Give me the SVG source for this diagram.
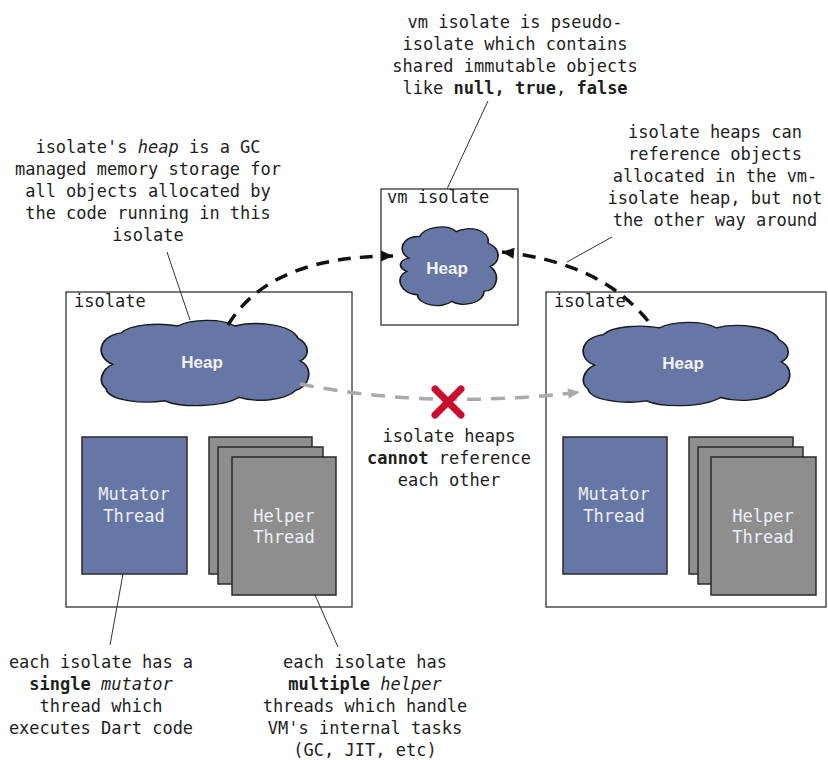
<svg xmlns="http://www.w3.org/2000/svg" width="828" height="760" viewBox="0 0 828 760">
<style>
.t{font-family:"DejaVu Sans Mono","Liberation Mono",monospace;font-size:17px;fill:#1e1e1e;text-anchor:middle}
.lbl{font-family:"DejaVu Sans Mono","Liberation Mono",monospace;font-size:17px;fill:#1e1e1e}
.box{fill:#fff;stroke:#333;stroke-width:1.3}
.cloud{fill:#6677a6;stroke:#1a1a1a;stroke-width:1.6}
.heap{font-family:"Liberation Sans",Arial,sans-serif;font-weight:bold;font-size:17px;fill:#f2f4fa;text-anchor:middle}
.mut{fill:#6677a6;stroke:#2a2a2a;stroke-width:1.5}
.hlp{fill:#8e8e8e;stroke:#2a2a2a;stroke-width:1.5}
.tt{font-family:"DejaVu Sans Mono","Liberation Mono",monospace;font-size:17px;fill:#eef0f6;text-anchor:middle}
.lead{stroke:#333;stroke-width:1;fill:none}
.dash{fill:none;stroke:#111;stroke-width:3.5;stroke-dasharray:13 9}
.gdash{fill:none;stroke:#aaa;stroke-width:3.5;stroke-dasharray:14 10}
.b{font-weight:bold}
.i{font-style:italic}
</style>
<defs>
<path id="cl" d="M18,52 C2,44 4,20 26,16 C34,6 60,4 78,8 C90,0 118,-1 130,8 C150,2 182,6 188,22 C200,30 198,44 190,48 C202,56 200,76 186,82 C176,94 150,96 134,90 C118,102 80,102 66,94 C46,98 14,94 12,80 C4,72 8,58 18,52 Z"/>
<path id="vcl" d="M14,40 C2,32 8,12 24,14 C28,2 50,-2 58,8 C70,0 90,6 88,22 C100,28 100,44 90,50 C100,60 96,80 84,80 C84,94 64,100 54,92 C44,102 22,96 22,84 C6,84 0,62 12,56 C2,50 6,42 14,40 Z"/>
<marker id="ah" markerUnits="userSpaceOnUse" markerWidth="14" markerHeight="14" viewBox="0 0 14 14" refX="13" refY="7" orient="auto">
<path d="M1,1.5 L13,7 L1,12.5 Z" fill="#111"/>
</marker>
<marker id="gh" markerUnits="userSpaceOnUse" markerWidth="14" markerHeight="14" viewBox="0 0 14 14" refX="13" refY="7" orient="auto">
<path d="M1,2 L13,7 L1,12 Z" fill="#aaa"/>
</marker>
</defs>
<rect width="828" height="760" fill="#fff"/>

<g id="note-vm" class="t">
<text x="515" y="28">vm isolate is pseudo-</text>
<text x="515" y="50">isolate which contains</text>
<text x="515" y="72">shared immutable objects</text>
<text x="515" y="94">like <tspan class="b">null, true</tspan>, <tspan class="b">false</tspan></text>
</g>
<g id="note-heap" class="t">
<text x="148" y="153">isolate's <tspan class="i">heap</tspan> is a GC</text>
<text x="148" y="175">managed memory storage for</text>
<text x="148" y="197">all objects allocated by</text>
<text x="148" y="219">the code running in this</text>
<text x="148" y="241">isolate</text>
</g>
<g id="note-ref" class="t">
<text x="715" y="138">isolate heaps can</text>
<text x="715" y="160">reference objects</text>
<text x="715" y="182">allocated in the vm-</text>
<text x="715" y="204">isolate heap, but not</text>
<text x="715" y="226">the other way around</text>
</g>

<g id="vm-isolate">
<rect class="box" x="381" y="189" width="137" height="136"/>
<text class="lbl" x="387" y="203">vm isolate</text>
<use href="#vcl" class="cloud" transform="translate(394,225) scale(1.07,0.83)" style="vector-effect:non-scaling-stroke"/>
<text class="heap" x="447" y="274">Heap</text>
</g>

<g id="isolate-left">
<rect class="box" x="66" y="292" width="286" height="315"/>
<text class="lbl" x="74" y="307">isolate</text>
<use href="#cl" class="cloud" transform="translate(93,319) scale(1.09,0.87)" style="vector-effect:non-scaling-stroke"/>
<text class="heap" x="202" y="368">Heap</text>
<g id="mutator-left">
<rect class="mut" x="82" y="437" width="105" height="137"/>
<text class="tt" x="134" y="500">Mutator</text>
<text class="tt" x="134" y="522">Thread</text>
</g>
<g id="helper-left">
<rect class="hlp" x="209" y="437" width="103" height="137"/>
<rect class="hlp" x="218" y="447" width="105" height="137"/>
<rect class="hlp" x="232" y="457" width="104" height="138"/>
<text class="tt" x="284" y="522">Helper</text>
<text class="tt" x="284" y="543">Thread</text>
</g>
</g>

<g id="isolate-right">
<rect class="box" x="546" y="292" width="280" height="315"/>
<text class="lbl" x="554" y="307">isolate</text>
<use href="#cl" class="cloud" transform="translate(575,321) scale(1.085,0.85)" style="vector-effect:non-scaling-stroke"/>
<text class="heap" x="683" y="369">Heap</text>
<g id="mutator-right">
<rect class="mut" x="563" y="437" width="104" height="137"/>
<text class="tt" x="614" y="500">Mutator</text>
<text class="tt" x="614" y="522">Thread</text>
</g>
<g id="helper-right">
<rect class="hlp" x="689" y="437" width="104" height="137"/>
<rect class="hlp" x="698" y="447" width="105" height="137"/>
<rect class="hlp" x="711" y="457" width="105" height="138"/>
<text class="tt" x="763" y="522">Helper</text>
<text class="tt" x="763" y="543">Thread</text>
</g>
</g>

<g id="note-cannot" class="t">
<text x="449" y="442">isolate heaps</text>
<text x="449" y="464"><tspan class="b">cannot</tspan> reference</text>
<text x="449" y="486">each other</text>
</g>
<g id="note-mutator" class="t">
<text x="101" y="668">each isolate has a</text>
<text x="101" y="690"><tspan class="b">single</tspan> <tspan class="i">mutator</tspan></text>
<text x="101" y="712">thread which</text>
<text x="101" y="734">executes Dart code</text>
</g>
<g id="note-helper" class="t">
<text x="365" y="668">each isolate has</text>
<text x="365" y="690"><tspan class="b">multiple</tspan> <tspan class="i">helper</tspan></text>
<text x="365" y="712">threads which handle</text>
<text x="365" y="734">VM's internal tasks</text>
<text x="365" y="756">(GC, JIT, etc)</text>
</g>

<g id="connectors">
<path class="dash" d="M228,325 Q270,256 393,256" marker-end="url(#ah)"/>
<path class="dash" d="M648,321 Q600,262 502,252" marker-end="url(#ah)"/>
<path class="gdash" d="M300,384 Q430,410 580,392" marker-end="url(#gh)"/>
<g stroke="#c8102e" stroke-width="7" stroke-linecap="round">
<line x1="435" y1="389" x2="461" y2="415"/>
<line x1="461" y1="389" x2="435" y2="415"/>
</g>
<line class="lead" x1="488" y1="101" x2="447" y2="189"/>
<line class="lead" x1="612" y1="237" x2="567" y2="262"/>
<line class="lead" x1="167" y1="252" x2="190" y2="320"/>
<line class="lead" x1="123" y1="574" x2="110" y2="645"/>
<line class="lead" x1="315" y1="595" x2="338" y2="647"/>
</g>
</svg>
